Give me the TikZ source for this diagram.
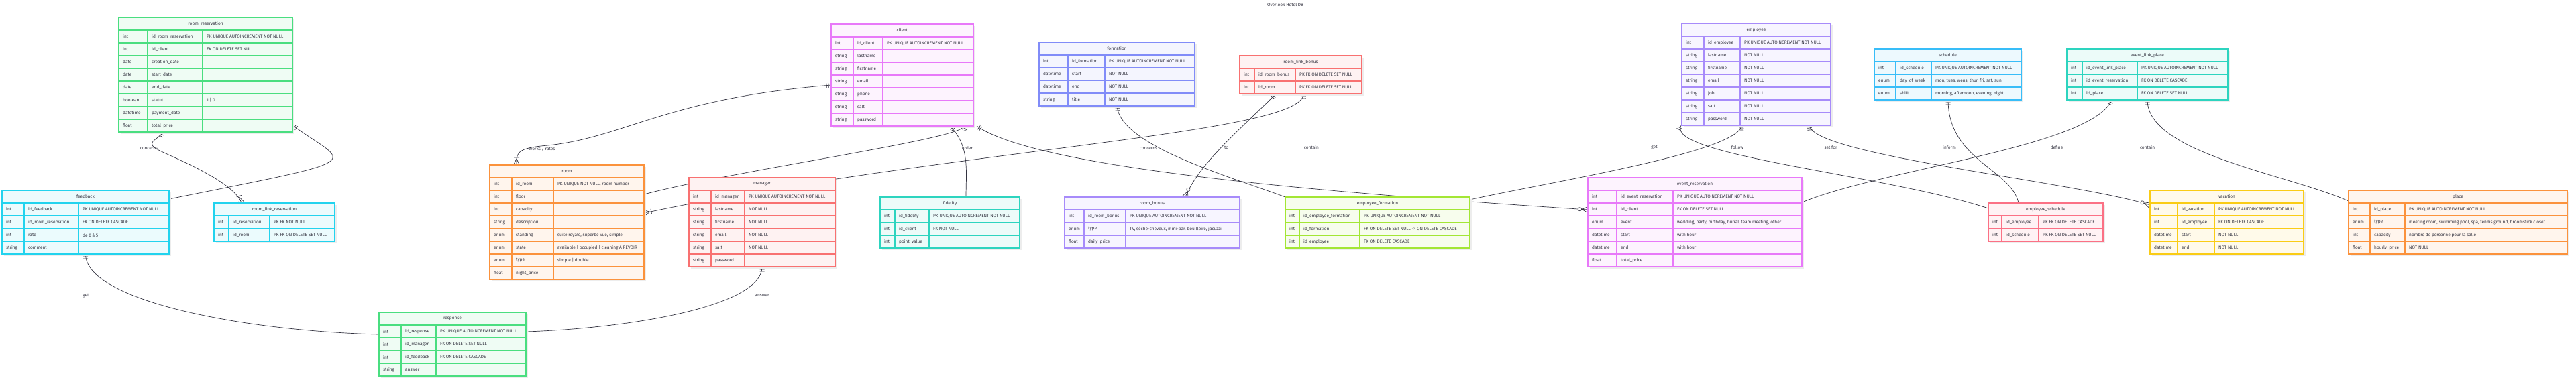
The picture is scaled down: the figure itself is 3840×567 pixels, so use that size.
\documentclass[tikz,border=0pt]{standalone}
\usepackage{fontspec}
\setmainfont{Fira Sans}
\usetikzlibrary{calc,decorations.markings}
\pgfdeclarelayer{edges}
\pgfsetlayers{edges,main}
\definecolor{txt}{HTML}{333340}
\definecolor{cgreen}{HTML}{4ADE80}
\definecolor{ccyan}{HTML}{22D3EE}
\definecolor{cfuch}{HTML}{E879F9}
\definecolor{corange}{HTML}{FB923C}
\definecolor{cred}{HTML}{F87171}
\definecolor{cteal}{HTML}{2DD4BF}
\definecolor{cindigo}{HTML}{818CF8}
\definecolor{cviolet}{HTML}{A78BFA}
\definecolor{clime}{HTML}{A3E635}
\definecolor{csky}{HTML}{38BDF8}
\definecolor{crose}{HTML}{FB7185}
\definecolor{cyellow}{HTML}{FACC15}
\tikzset{
  cell/.style={font=\fontsize{6.5}{7}\selectfont, text=txt, inner sep=0pt, anchor=west},
  hdr/.style={font=\fontsize{6.5}{7}\selectfont, text=txt, inner sep=0pt},
  entframe/.style={draw=#1, fill=#1!9, line width=1.3pt, inner sep=0pt, outer sep=0pt, anchor=north west},
  egrid/.style={draw=#1, line width=1.3pt},
  rel/.style={draw=txt, line width=0.7pt},
  rlabel/.style={font=\fontsize{6.5}{7}\selectfont, text=txt, inner sep=1pt},
  mk/.style={line width=0.7pt, draw=txt},
  one start/.style={postaction={decorate,decoration={markings,mark=at position 0 with {\draw[mk] (4,-3.5)--(4,3.5) (7,-3.5)--(7,3.5);}}}},
  one end/.style={postaction={decorate,decoration={markings,mark=at position 1 with {\draw[mk] (-4,-3.5)--(-4,3.5) (-7,-3.5)--(-7,3.5);}}}},
  many0 end/.style={postaction={decorate,decoration={markings,mark=at position 1 with {\draw[mk] (0,-4.5)--(-9,0)--(0,4.5); \draw[mk,fill=white] (-12,0) circle (2.6pt);}}}},
  many1 end/.style={postaction={decorate,decoration={markings,mark=at position 1 with {\draw[mk] (0,-4.5)--(-9,0)--(0,4.5) (-11,-4)--(-11,4);}}}},
}
\newcommand{\ent}[8]{%
  \foreach \ta/\tb/\tc [count=\ti] in {#8} {\xdef\entN{\ti}}%
  \pgfmathsetmacro\entW{#4+#5+#6}%
  \pgfmathsetmacro\entH{19*(\entN+1)}%
  \pgfmathsetmacro\entA{#2+#4}%
  \pgfmathsetmacro\entB{#2+#4+#5}%
  \pgfmathsetmacro\entC{#2+#4+#5+#6}%
  \pgfmathsetmacro\entBot{#3+\entH}%
  \fill[black!7] (#2+3,#3+3) rectangle (\entC+3,\entBot+3);
  \node[entframe=#7, minimum width=\entW pt, minimum height=\entH pt] (#1) at (#2,#3) {};
  \node[hdr] (#1-h) at ({#2+\entW/2},#3+9.5) {#1};
  \foreach \ta/\tb/\tc [count=\ti] in {#8} {
    \pgfmathsetmacro\ry{#3+19*\ti}
    \draw[egrid=#7] (#2,\ry) -- (\entC,\ry);
    \node[cell] (#1-\ti a) at (#2+6,\ry+9.5) {\ignorespaces\ta};
    \node[cell] (#1-\ti b) at (\entA+6,\ry+9.5) {\ignorespaces\tb};
    \node[cell] (#1-\ti c) at (\entB+6,\ry+9.5) {\ignorespaces\tc};
  }
  \draw[egrid=#7] (\entA,#3+19) -- (\entA,\entBot) (\entB,#3+19) -- (\entB,\entBot);
  \draw[egrid=#7] (#1.north west) rectangle (#1.south east);
}
\begin{document}
\catcode`\_=12
\begin{tikzpicture}[x=1pt,y=-1pt]
\useasboundingbox (0,0) rectangle (3840,567);
\node[hdr] (title) at (1916,7) {Overlook Hotel DB};

\ent{room_reservation}{177}{26}{43}{82}{134}{cgreen}{int/id_room_reservation/{PK UNIQUE AUTOINCREMENT NOT NULL},int/id_client/{FK ON DELETE SET NULL},date/creation_date/{},date/start_date/{},date/end_date/{},boolean/statut/{1 | 0},datetime/payment_date/{},float/total_price/{}}

\ent{feedback}{3}{284}{33}{81}{135}{ccyan}{int/id_feedback/{PK UNIQUE AUTOINCREMENT NOT NULL},int/id_room_reservation/{FK ON DELETE CASCADE},int/rate/{de 0 à 5},string/comment/{}}

\ent{room_link_reservation}{319}{303}{22}{61}{97}{ccyan}{int/id_reservation/{PK FK NOT NULL},int/id_room/{PK FK ON DELETE SET NULL}}

\ent{client}{1239}{36}{33}{44}{135}{cfuch}{int/id_client/{PK UNIQUE AUTOINCREMENT NOT NULL},string/lastname/{},string/firstname/{},string/email/{},string/phone/{},string/salt/{},string/password/{}}

\ent{room}{730}{246}{33}{62}{135}{corange}{int/id_room/{PK UNIQUE NOT NULL, room number},int/floor/{},int/capacity/{},string/description/{},enum/standing/{suite royale, superbe vue, simple},enum/state/{available | occupied | cleaning A REVOIR},enum/type/{simple | double},float/night_price/{}}

\ent{manager}{1027}{265}{33}{50}{135}{cred}{int/id_manager/{PK UNIQUE AUTOINCREMENT NOT NULL},string/lastname/{NOT NULL},string/firstname/{NOT NULL},string/email/{NOT NULL},string/salt/{NOT NULL},string/password/{}}

\ent{response}{565}{466}{33}{52}{134}{cgreen}{int/id_response/{PK UNIQUE AUTOINCREMENT NOT NULL},int/id_manager/{FK ON DELETE SET NULL},int/id_feedback/{FK ON DELETE CASCADE},string/answer/{}}

\ent{fidelity}{1312}{294}{22}{51}{135}{cteal}{int/id_fidelity/{PK UNIQUE AUTOINCREMENT NOT NULL},int/id_client/{FK NOT NULL},int/point_value/{}}

\ent{formation}{1549}{63}{43}{55}{134}{cindigo}{int/id_formation/{PK UNIQUE AUTOINCREMENT NOT NULL},datetime/start/{NOT NULL},datetime/end/{NOT NULL},string/title/{NOT NULL}}

\ent{room_link_bonus}{1848}{83}{22}{61}{99}{cred}{int/id_room_bonus/{PK FK ON DELETE SET NULL},int/id_room/{PK FK ON DELETE SET NULL}}

\ent{room_bonus}{1587}{294}{29}{62}{170}{cviolet}{int/id_room_bonus/{PK UNIQUE AUTOINCREMENT NOT NULL},enum/type/{TV, sèche-cheveux, mini-bar, bouilloire, jacuzzi},float/daily_price/{}}

\ent{employee_formation}{1916}{294}{21}{90}{164}{clime}{int/id_employee_formation/{PK UNIQUE AUTOINCREMENT NOT NULL},int/id_formation/{FK ON DELETE SET NULL -> ON DELETE CASCADE},int/id_employee/{FK ON DELETE CASCADE}}

\ent{employee}{2507}{35}{33}{54}{135}{cviolet}{int/id_employee/{PK UNIQUE AUTOINCREMENT NOT NULL},string/lastname/{NOT NULL},string/firstname/{NOT NULL},string/email/{NOT NULL},string/job/{NOT NULL},string/salt/{NOT NULL},string/password/{NOT NULL}}

\ent{schedule}{2794}{73}{32}{53}{134}{csky}{int/id_schedule/{PK UNIQUE AUTOINCREMENT NOT NULL},enum/day_of_week/{mon, tues, wens, thur, fri, sat, sun},enum/shift/{morning, afternoon, evening, night}}

\ent{event_link_place}{3081}{73}{23}{82}{135}{cteal}{int/id_event_link_place/{PK UNIQUE AUTOINCREMENT NOT NULL},int/id_event_reservation/{FK ON DELETE CASCADE},int/id_place/{FK ON DELETE SET NULL}}

\ent{event_reservation}{2367}{265}{43}{84}{192}{cfuch}{int/id_event_reservation/{PK UNIQUE AUTOINCREMENT NOT NULL},int/id_client/{FK ON DELETE SET NULL},enum/event/{wedding, party, birthday, burial, team meeting, other},datetime/start/{with hour},datetime/end/{with hour},float/total_price/{}}

\ent{employee_schedule}{2964}{303}{20}{55}{96}{crose}{int/id_employee/{PK FK ON DELETE CASCADE},int/id_schedule/{PK FK ON DELETE SET NULL}}

\ent{vacation}{3205}{284}{41}{55}{133}{cyellow}{int/id_vacation/{PK UNIQUE AUTOINCREMENT NOT NULL},int/id_employee/{FK ON DELETE CASCADE},datetime/start/{NOT NULL},datetime/end/{NOT NULL}}

\ent{place}{3501}{284}{32}{52}{242}{corange}{int/id_place/{PK UNIQUE AUTOINCREMENT NOT NULL},enum/type/{meeting room, swimming pool, spa, tennis ground, broomstick closet},int/capacity/{nombre de personne pour la salle},float/hourly_price/{NOT NULL}}

% labels
\node[rlabel] (l-concerns) at (222,222) {concerns};
\node[rlabel] (l-rates) at (808,222) {works / rates};
\node[rlabel] (l-order) at (1442,221) {order};
\node[rlabel] (l-concerns2) at (1712,222) {concerns};
\node[rlabel] (l-to) at (1828,220) {to};
\node[rlabel] (l-contain) at (1955,220) {contain};
\node[rlabel] (l-get2) at (2466,220) {get};
\node[rlabel] (l-follow) at (2590,220) {follow};
\node[rlabel] (l-setfor) at (2729,220) {set for};
\node[rlabel] (l-inform) at (2906,220) {inform};
\node[rlabel] (l-define) at (3066,220) {define};
\node[rlabel] (l-contain2) at (3201,220) {contain};
\node[rlabel] (l-get) at (128,441) {get};
\node[rlabel] (l-answer) at (1136,441) {answer};

\begin{pgfonlayer}{edges}
% left part
\draw[rel, one start, many1 end] ($(room_reservation.south west)+(66,0)$) .. controls +(-6,12) and +(-30,-14) .. ($(l-concerns.east)+(4,4)$) .. controls +(30,14) and +(-10,-30) .. ($(room_link_reservation.north west)+(41,0)$);
\draw[rel, one start, many0 end] ($(room_reservation.south east)+(0,-10)$) .. controls +(84,61) and +(308,-62) .. ($(feedback.north east)+(0,13)$);
\draw[rel, one start, many1 end] ($(client.west)+(0,15)$) .. controls +(-250,20) and +(120,-10) .. ($(l-rates.north)+(0,0)$) .. controls +(-40,4) and +(0,-15) .. ($(room.north west)+(40,0)$);
\draw[rel, one start, many1 end] ($(client.south west)+(197,0)$) .. controls +(8,18) and +(130,-35) .. ($(room.north east)+(0,44)$);
\draw[rel, one start, many0 end] ($(client.south west)+(177,0)$) .. controls +(30,30) and +(0,-40) .. ($(fidelity.north west)+(128,0)$);
\draw[rel, one start, many0 end] ($(client.south east)+(5,0)$) .. controls +(100,70) and +(-300,-20) .. ($(event_reservation.north west)+(0,48)$);
\draw[rel, one start, many1 end] ($(room_link_bonus.south west)+(95,0)$) .. controls +(3,60) and +(450,-95) .. ($(room.north east)+(0,72)$);
\draw[rel, one start, many0 end] ($(room_link_bonus.south west)+(54,0)$) .. controls +(-50,50) and +(20,-50) .. ($(room_bonus.north west)+(180,0)$);
\draw[rel, one start, many1 end] ($(formation.south west)+(116,0)$) .. controls +(5,60) and +(-80,-30) .. ($(employee_formation.north west)+(0,0)$);
% right part
\draw[rel, one start, many1 end] ($(employee.south west)+(-1,0)$) .. controls +(-25,45) and +(-150,-50) .. ($(employee_schedule.north west)+(0,8)$);
\draw[rel, one start, many0 end] ($(employee.south west)+(89,0)$) .. controls +(-2,40) and +(110,-25) .. ($(employee_formation.north east)+(0,4)$);
\draw[rel, one start, many0 end] ($(employee.south west)+(190,0)$) .. controls +(5,45) and +(-110,-35) .. ($(vacation.north west)+(0,22)$);
\draw[rel, one start, many1 end] ($(schedule.south west)+(110,0)$) .. controls +(0,90) and +(-10,-50) .. ($(employee_schedule.north west)+(45,0)$);
\draw[rel, one start, many1 end] ($(event_link_place.south west)+(67,0)$) .. controls +(-30,70) and +(120,-50) .. ($(event_reservation.north east)+(0,37)$);
\draw[rel, one start, many1 end] ($(event_link_place.south west)+(120,0)$) .. controls +(0,80) and +(-90,-40) .. ($(place.north west)+(0,16)$);
% bottom part
\draw[rel, one start, one end] (feedback.south) .. controls +(0,70) and +(-200,-5) .. ($(response.north west)+(0,33)$);
\draw[rel, one start, many0 end] ($(manager.south west)+(109,0)$) .. controls +(0,60) and +(150,-5) .. ($(response.north east)+(0,29)$);
\end{pgfonlayer}
\end{tikzpicture}
\end{document}
